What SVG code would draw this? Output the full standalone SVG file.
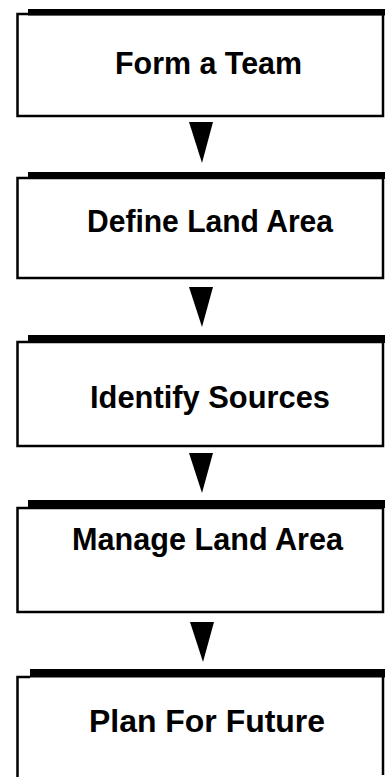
<svg xmlns="http://www.w3.org/2000/svg" width="386" height="777" viewBox="0 0 386 777">
<style>
.box{fill:#fff;stroke:#000;stroke-width:2.5}
.bar{fill:#000}
.lbl{font-family:"Liberation Sans",Arial,sans-serif;font-weight:bold;font-size:32px;fill:#000;text-anchor:start}
.arr{fill:#000}
</style>
<rect width="386" height="777" fill="#fff"/>
<g id="n1">
<rect class="box" x="17.5" y="14" width="365.5" height="102"/>
<rect class="bar" x="28" y="9" width="357" height="6.5"/>
<text class="lbl" x="115" y="74" textLength="187" lengthAdjust="spacingAndGlyphs">Form a Team</text>
</g>
<g id="n2">
<rect class="box" x="17.5" y="178" width="365.5" height="100"/>
<rect class="bar" x="28" y="172" width="357" height="7"/>
<text class="lbl" x="87" y="232" textLength="246" lengthAdjust="spacingAndGlyphs">Define Land Area</text>
</g>
<g id="n3">
<rect class="box" x="17.5" y="342" width="365.5" height="104"/>
<rect class="bar" x="28" y="335" width="357" height="8"/>
<text class="lbl" x="90" y="408" textLength="240" lengthAdjust="spacingAndGlyphs">Identify Sources</text>
</g>
<g id="n4">
<rect class="box" x="17.5" y="508" width="365.5" height="104"/>
<rect class="bar" x="28" y="500" width="357" height="8"/>
<text class="lbl" x="72" y="550" textLength="271" lengthAdjust="spacingAndGlyphs">Manage Land Area</text>
</g>
<g id="n5">
<path d="M17.5,777 V677 H30 M383,677 V775" fill="none" stroke="#000" stroke-width="2.5"/>
<rect class="bar" x="30" y="669" width="355" height="8.5"/>
<text class="lbl" x="89" y="732" textLength="236" lengthAdjust="spacingAndGlyphs">Plan For Future</text>
</g>
<g id="connectors">
<polygon class="arr" points="189,122 213,122 202,163"/>
<polygon class="arr" points="189,287 213,287 202,327"/>
<polygon class="arr" points="189,453 213,453 202,493"/>
<polygon class="arr" points="190,622 214,622 203,662"/>
</g>
</svg>
